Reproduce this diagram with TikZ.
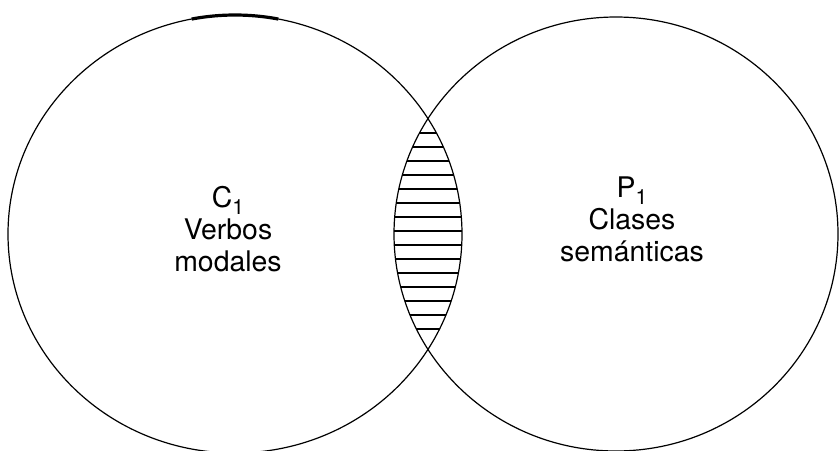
\documentclass[tikz,border=0pt]{standalone}
\usepackage{fontspec}
\setmainfont{TeX Gyre Heros}
\newcommand{\lowidx}[1]{\raisebox{-0.5ex}{\fontsize{10.5}{10.5}\selectfont #1}}
\begin{document}
\begin{tikzpicture}[x=0.5pt, y=-0.5pt,
        set/.style={line width=0.6pt},
        hatch/.style={line width=0.6pt},
        setlabel/.style={align=center, font=\fontsize{14.2}{16}\selectfont, inner sep=0pt}]
        \useasboundingbox (0, 0) rectangle (840, 450);
        \clip (0, 0) rectangle (840, 450);

        % the two sets
        \coordinate (cset) at (235, 234);
        \coordinate (pset) at (616, 234);
        \draw[set] (cset) ellipse [x radius=227, y radius=219];
        \draw[set] (pset) ellipse [x radius=222, y radius=217];
        \draw[line width=1.6pt] ([shift={(-101:227 and 219)}]cset) arc [start angle=-101, end angle=-79, x radius=227, y radius=219];

        % shaded intersection
        \begin{scope}
            \clip (cset) ellipse [x radius=227, y radius=219];
            \clip (pset) ellipse [x radius=222, y radius=217];
            \foreach \y in {133, 147, ..., 335}
                \draw[hatch] (380, \y) -- (480, \y);
        \end{scope}

        \node[setlabel] (clabel) at (228, 229) {C\lowidx{1}\\Verbos\\modales};
        \node[setlabel] (plabel) at (632, 219) {P\lowidx{1}\\Clases\\semánticas};
\end{tikzpicture}
\end{document}
